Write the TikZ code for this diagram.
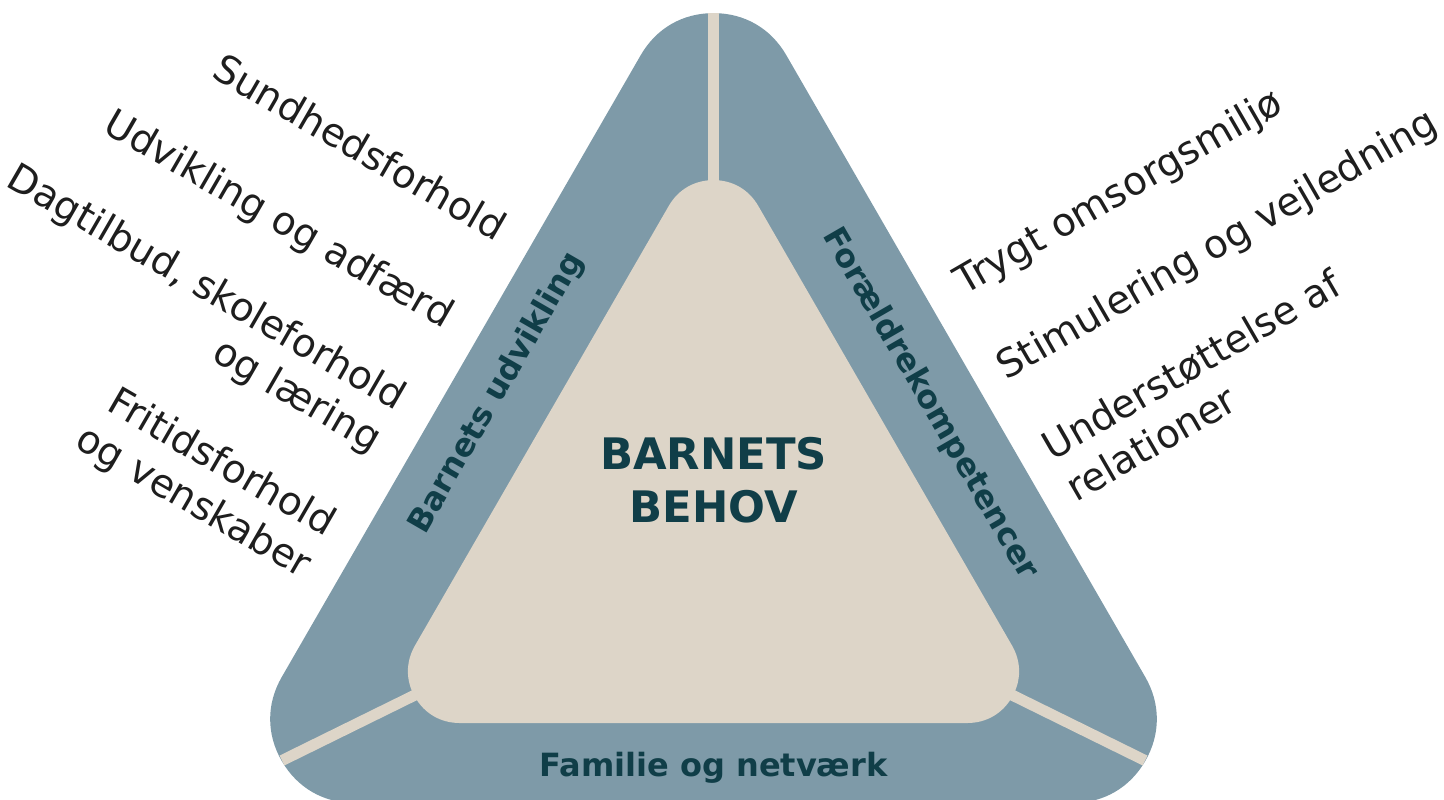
\documentclass[tikz,border=0pt]{standalone}
\usepackage{fontspec}
\setmainfont{DejaVu Sans}
\definecolor{bandblue}{RGB}{126,154,168}
\definecolor{corebeige}{RGB}{221,213,200}
\definecolor{darkteal}{RGB}{16,62,72}
\definecolor{labelgray}{RGB}{30,30,30}
\begin{document}
\begin{tikzpicture}[x=0.5pt,y=-0.5pt,
  bandtxt/.style={font=\bfseries\fontsize{16}{19}\selectfont, text=darkteal, inner sep=0pt},
  outertxt/.style={font=\fontsize{19.5}{24}\selectfont, text=labelgray, inner sep=0pt},
  divider/.style={draw=corebeige, line width=5.5pt},
]
\useasboundingbox (0,0) rectangle (1444,799);
% outer rounded triangle
\coordinate (oA) at (713.5,97.1);
\coordinate (oB) at (354.5,719);
\coordinate (oC) at (1072.5,719);
\filldraw[bandblue, line width=84pt, line join=round] (oA) -- (oB) -- (oC) -- cycle;
% dividers
\coordinate (dTopOut) at (713.5,13);
\coordinate (dTopIn) at (713.5,260);
\coordinate (dLeftIn) at (560,623.6);
\coordinate (dLeftOut) at (282,760.5);
\coordinate (dRightIn) at (867,623.6);
\coordinate (dRightOut) at (1145,760.5);
\draw[divider] (dTopIn) -- (dTopOut);
\draw[divider] (dLeftIn) -- (dLeftOut);
\draw[divider] (dRightIn) -- (dRightOut);
% inner rounded triangle
\coordinate (iA) at (713.5,231.8);
\coordinate (iB) at (459.8,671.3);
\coordinate (iC) at (967.2,671.3);
\filldraw[corebeige, line width=51.7pt, line join=round] (iA) -- (iB) -- (iC) -- cycle;
% centre text
\node[font=\bfseries\fontsize{21.7}{26.7}\selectfont, text=darkteal, align=center, inner sep=0pt] (core) at (713.5,480) {BARNETS\\BEHOV};
% band labels
\node[bandtxt, rotate=60] (bu) at (497,393) {Barnets udvikling};
\node[bandtxt, rotate=-60] (fk) at (930,404) {Forældrekompetencer};
\node[bandtxt, anchor=base] (fn) at (713.5,776.5) {Familie og netværk};
% outer labels left
\node[outertxt, rotate=-30, anchor=base east] (l1) at (496,242) {Sundhedsforhold};
\node[outertxt, rotate=-30, anchor=base east] (l2) at (444,329) {Udvikling og adfærd};
\node[outertxt, rotate=-30, anchor=base east, align=right] (l3) at (372,453) {Dagtilbud, skoleforhold\\og læring};
\node[outertxt, rotate=-30, anchor=base east, align=right] (l4) at (302,579) {Fritidsforhold\\og venskaber};
% outer labels right
\node[outertxt, rotate=30, anchor=base west] (r1) at (964,296) {Trygt omsorgsmiljø};
\node[outertxt, rotate=30, anchor=base west] (r2) at (1006,381) {Stimulering og vejledning};
\node[outertxt, rotate=30, anchor=base west, align=left] (r3) at (1076,503) {Understøttelse af\\relationer};
\end{tikzpicture}
\end{document}
